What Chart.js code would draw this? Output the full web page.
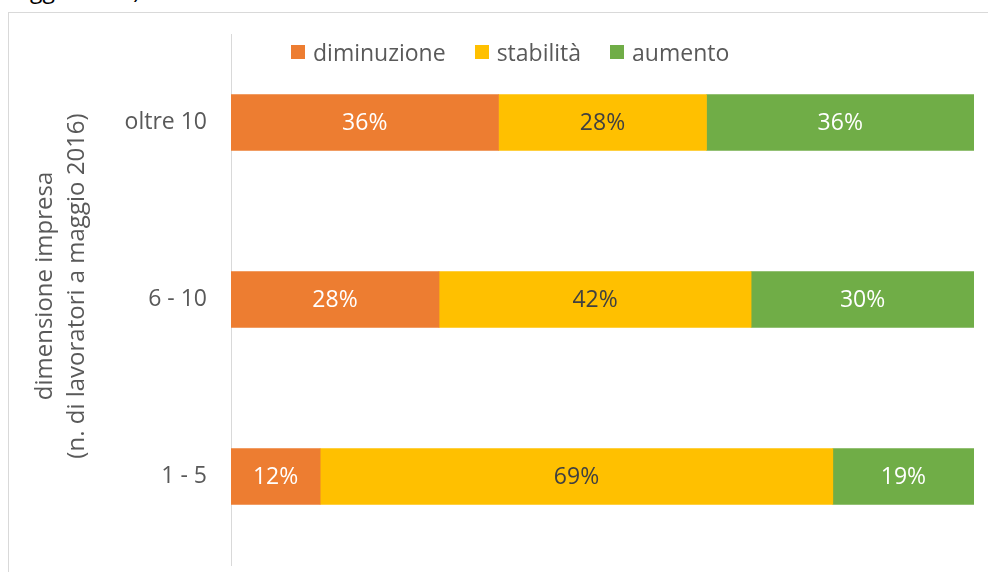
<!DOCTYPE html>
<html>
<head>
<meta charset="utf-8">
<script src="https://cdn.jsdelivr.net/npm/chart.js@4/dist/chart.umd.min.js"></script>
<style>
  body { margin: 0; width: 988px; height: 572px; overflow: hidden; position: relative; background: #fff; font-family: 'Open Sans', sans-serif; }
  #frame { position: absolute; left: 8px; top: 12px; width: 1100px; height: 700px; border: 1px solid #d9d9d9; box-sizing: border-box; }
  #cut { position: absolute; left: -4px; top: -27px; font-size: 23px; color: #000; white-space: nowrap; }
  #chart { position: absolute; left: 0; top: 0; }
  #legend { position: absolute; left: 291px; top: 38px; display: flex; font-size: 23px; color: #595959; line-height: 28px; }
  #legend span.item { display: inline-flex; align-items: center; margin-right: 29px; }
  #legend span.box { width: 14px; height: 14px; display: inline-block; margin-right: 8px; }
</style>
</head>
<body>
<div id="cut">maggio 2016)</div>
<div id="frame"></div>
<canvas id="chart" width="988" height="572"></canvas>
<div id="legend"></div>
<script>
// dimensione impresa

var categories = ['oltre 10', '6 - 10', '1 - 5'];
var seriesNames = ['diminuzione', 'stabilità', 'aumento'];
var diminuzione = [36, 28, 12];
var stabilita = [28, 42, 69];
var aumento = [36, 30, 19];

var seriesColors = ['#ED7D31', '#FFC000', '#70AD47'];
var labelColors = ['#ffffff', '#404040', '#ffffff'];
var axisTitle = ['dimensione impresa', '(n. di lavoratori a maggio 2016)'];

var FONT = "'Open Sans', sans-serif";

// legend
var legendEl = document.getElementById('legend');
seriesNames.forEach(function(name, i){
	var item = document.createElement('span');
	item.className = 'item';
	item.innerHTML = '<span class="box" style="background:' + seriesColors[i] + '"></span>' + name;
	legendEl.appendChild(item);
});

// value labels in the middle of every segment
var barLabels = {
	id: 'barLabels',
	afterDatasetsDraw: function(chart){
		var ctx = chart.ctx;
		ctx.save();
		ctx.font = '23px ' + FONT;
		ctx.textAlign = 'center';
		ctx.textBaseline = 'middle';
		chart.data.datasets.forEach(function(ds, i){
			var meta = chart.getDatasetMeta(i);
			meta.data.forEach(function(el, j){
				var c = el.getCenterPoint();
				ctx.fillStyle = ds.labelColor;
				ctx.fillText(ds.data[j] + '%', c.x, c.y + 1);
			});
		});
		ctx.restore();
	}
};

// rotated two line axis title
var yTitle = {
	id: 'yTitle',
	afterDraw: function(chart){
		var ctx = chart.ctx;
		ctx.save();
		ctx.font = '24px ' + FONT;
		ctx.fillStyle = '#595959';
		ctx.textAlign = 'center';
		ctx.textBaseline = 'middle';
		ctx.translate(45, 286);
		ctx.rotate(-Math.PI / 2);
		axisTitle.forEach(function(line, i){
			ctx.fillText(line, 0, i * 32);
		});
		ctx.restore();
	}
};

var datasets = [diminuzione, stabilita, aumento].map(function(vals, i){
	return {
		label: seriesNames[i],
		data: vals,
		backgroundColor: seriesColors[i],
		labelColor: labelColors[i],
		borderWidth: 0,
		barThickness: 56
	};
});

var ctx = document.getElementById('chart').getContext('2d');
var chart = new Chart(ctx, {
	type: 'bar',
	data: {
		labels: categories,
		datasets: datasets
	},
	options: {
		indexAxis: 'y',
		responsive: false,
		animation: false,
		layout: {
			padding: { top: 34, bottom: 7, right: 14, left: 0 }
		},
		plugins: {
			legend: { display: false },
			tooltip: { enabled: false }
		},
		scales: {
			x: {
				stacked: true,
				display: false,
				min: 0,
				max: 100
			},
			y: {
				stacked: true,
				grid: { display: false, drawTicks: false },
				border: { display: true, color: '#d9d9d9', width: 1 },
				ticks: {
					padding: 24,
					color: '#595959',
					font: { size: 23, family: FONT }
				},
				afterFit: function(scale){
					scale.width = 231;
					scale.paddingTop = 0;
					scale.paddingBottom = 0;
				}
			}
		}
	},
	plugins: [barLabels, yTitle]
});
</script>
</body>
</html>
